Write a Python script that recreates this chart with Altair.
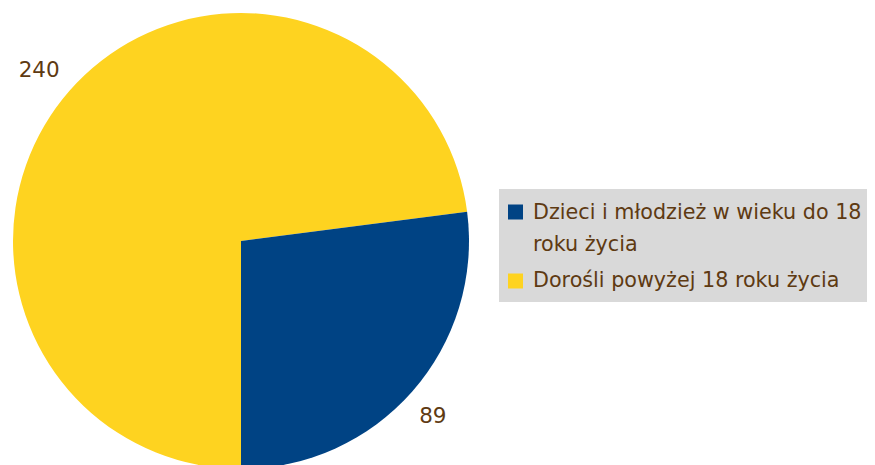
import altair as alt
import pandas as pd
import math

categories = ["Dorośli powyżej 18 roku życia", "Dzieci i młodzież w wieku do 18 roku życia"]
values = [240, 89]
colors = ["#FED320", "#004384"]
legend_order = ["Dzieci i młodzież w wieku do 18 roku życia", "Dorośli powyżej 18 roku życia"]
legend_lines = [["Dzieci i młodzież w wieku do 18", "roku życia"], ["Dorośli powyżej 18 roku życia"]]

df = pd.DataFrame({"cat": categories, "val": values, "ord": list(range(len(values)))})

FONT = "DejaVu Sans"
TXT = "#5E3A12"
cx, cy = 233, 233
R = 228

theta = alt.Theta("val:Q", stack=True, scale=alt.Scale(range=[math.pi, 3 * math.pi]))
color = alt.Color("cat:N", scale=alt.Scale(domain=categories, range=colors), legend=None)

base = alt.Chart(df).encode(theta=theta, color=color, order=alt.Order("ord:Q"))

pie = base.mark_arc(outerRadius=R).encode(x=alt.value(cx), y=alt.value(cy))
labels = base.mark_text(radius=262, dx=-5, dy=3, font=FONT, fontSize=21.5, color=TXT).encode(
    x=alt.value(cx), y=alt.value(cy), text="val:Q", color=alt.value(TXT)
)

bg = alt.Chart(pd.DataFrame({"a": [0]})).mark_rect(color="#D9D9D9").encode(
    x=alt.value(491), x2=alt.value(866), y=alt.value(181), y2=alt.value(294)
)

leg_layers = []
ys_sym = [204, 273]
ys_txt = [205, 273]
for i, cat in enumerate(legend_order):
    col = colors[categories.index(cat)]
    d = pd.DataFrame({"cat": [cat]})
    sym = alt.Chart(d).mark_square(size=225, color=col, opacity=1).encode(
        x=alt.value(507.5), y=alt.value(ys_sym[i])
    )
    txt = alt.Chart(d).mark_text(
        align="left", baseline="middle", font=FONT, fontSize=20.7, color=TXT,
        text=legend_lines[i], lineHeight=32,
    ).encode(x=alt.value(525), y=alt.value(ys_txt[i]))
    leg_layers += [sym, txt]

chart = alt.layer(pie, labels, bg, *leg_layers).properties(
    width=859, height=457, padding=0, autosize="none"
).configure_view(stroke=None)

chart.save("out.html", embed_options={"renderer": "svg", "actions": False})
